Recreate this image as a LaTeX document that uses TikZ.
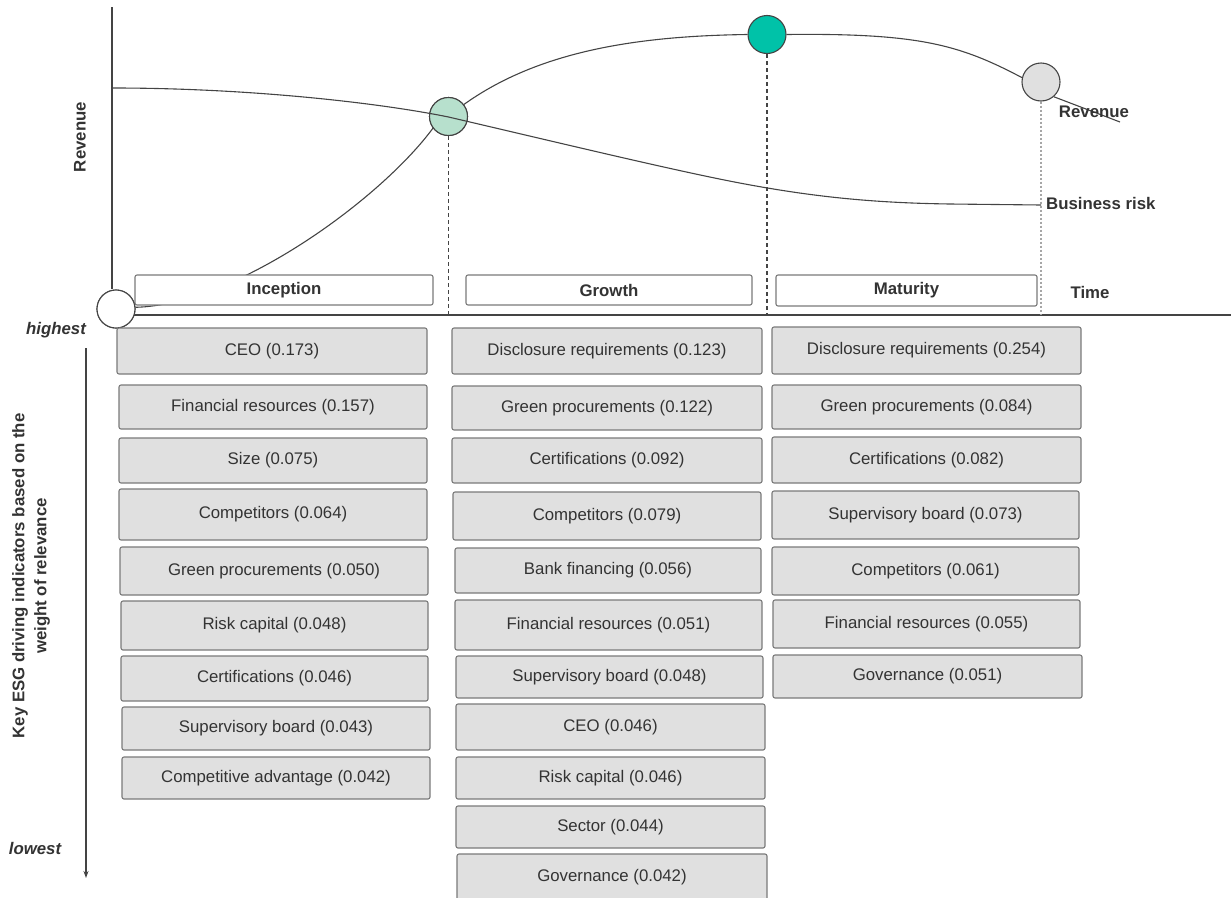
\documentclass[tikz,border=0pt]{standalone}
\usepackage{fontspec}
\setmainfont{Liberation Sans}
\usetikzlibrary{arrows.meta}
\definecolor{boxfill}{HTML}{E0E0E0}
\definecolor{boxline}{HTML}{7A7A7A}
\definecolor{txt}{HTML}{333333}
\definecolor{ln}{HTML}{444444}
\definecolor{mintc}{HTML}{B7E0CD}
\definecolor{tealc}{HTML}{00C2A8}
\definecolor{greyc}{HTML}{E0E0E0}
\newcommand\indbox[6]{\node[ind, minimum width={#4-#2}, minimum height={#5-#3}] (#1) at ({(#2+#4)/2},{(#3+#5)/2}) {#6};}
\newcommand\phbox[6]{\node[phase, minimum width={#4-#2}, minimum height={#5-#3}] (#1) at ({(#2+#4)/2},{(#3+#5)/2}) {#6};}
\begin{document}
\begin{tikzpicture}[x=1pt,y=-1pt,
  ind/.style={draw=boxline, fill=boxfill, rounded corners=2pt, line width=1.1pt, inner sep=0pt, text=txt, font=\fontsize{16.8}{20}\selectfont},
  phase/.style={draw=boxline, fill=white, rounded corners=2pt, line width=1.1pt, inner sep=0pt, text=txt, font=\fontsize{16.8}{20}\selectfont\bfseries},
  lbl/.style={text=txt, font=\fontsize{16.8}{20}\selectfont\bfseries, inner sep=0pt},
  curve/.style={draw=ln, line width=1.1pt},
  dot/.style={circle, draw=ln, line width=1.1pt, minimum size=38pt, inner sep=0pt},
  vdash/.style={draw=ln, line width=1.1pt, dash pattern=on 4pt off 3pt}
]
\useasboundingbox (0,0) rectangle (1231,897);
\clip (0,0) rectangle (1231,897);

% circles
\node[dot, fill=white] (c0) at (116,309) {};
\node[dot, fill=mintc] (c1) at (448.5,116.5) {};
\node[dot, fill=tealc] (c2) at (767,34.5) {};
\node[dot, fill=greyc] (c3) at (1041,82) {};

% axes
\coordinate (ytop) at (112,7);
\coordinate (xend) at (1231,315);
\coordinate (xstart) at (133,315);
\draw[curve] (ytop) -- (c0.north -| ytop);
\draw[curve] (xstart) -- (xend);

% dashed drop lines
\coordinate (d1) at (448.5,315);
\coordinate (d2) at (767,315);
\coordinate (d3) at (1041,315);
\draw[vdash] (c1.south) -- (d1);
\draw[vdash] (c2.south) -- (d2);
\draw[draw=gray!70, line width=1.1pt, dash pattern=on 2pt off 2pt] (c3.south) -- (d3);

% revenue curve
\coordinate (revend) at (1120,122);
\draw[curve] (c0.5) .. controls (235,305) and (380,200) .. (c1.217);
\draw[curve] (c1.38) .. controls (540,50) and (640,36) .. (c2.west);
\draw[curve] (c2.east) .. controls (920,33) and (960,45) .. (c3.167);
\draw[curve] (c3.-49) -- (revend);

% phase boxes
\phbox{pinc}{135}{275}{433}{305}{Inception}
\phbox{pgro}{466}{275}{752}{305}{Growth}
\phbox{pmat}{776}{275}{1037}{306}{Maturity}

% redraw circles on top
\node[dot, fill=white] at (116,309) {};
\node[dot, fill=mintc] at (448.5,116.5) {};

% business risk curve
\coordinate (brs) at (112.5,88);
\coordinate (bre) at (1041,205);
\draw[curve] (brs) .. controls (250,88) and (380,103) .. (448.5,117)
  .. controls (560,143) and (680,172) .. (745,184)
  .. controls (820,198) and (880,203) .. (950,204) -- (bre);

% labels top
\node[lbl, rotate=90] (lrev) at (80,137) {Revenue};
\node[lbl] (lrev2) at (1094,112) {Revenue};
\node[lbl, anchor=west] (lbr) at (1046,203) {Business risk};
\node[lbl] (ltime) at (1090,292) {Time};

% left side
\node[lbl, font=\fontsize{16.8}{20}\selectfont\bfseries\itshape] (lhi) at (56,330) {highest};
\node[lbl, font=\fontsize{16.8}{20}\selectfont\bfseries\itshape] (llo) at (35,848) {lowest};
\coordinate (atop) at (86,348);
\coordinate (abot) at (86,878);
\draw[draw=ln, line width=1.1pt, -{Stealth[length=7pt,width=5pt]}] (atop) -- (abot);
\node[lbl, rotate=90, align=center, font=\fontsize{16.8}{22}\selectfont\bfseries] (lkey) at (31,576) {Key ESG driving indicators based on the\\weight of relevance};

% Inception column
\indbox{i1}{117}{328}{427}{374}{CEO (0.173)}
\indbox{i2}{119}{385}{427}{429}{Financial resources (0.157)}
\indbox{i3}{119}{438}{427}{483}{Size (0.075)}
\indbox{i4}{119}{489}{427}{540}{Competitors (0.064)}
\indbox{i5}{120}{547}{428}{595}{Green procurements (0.050)}
\indbox{i6}{121}{601}{428}{650}{Risk capital (0.048)}
\indbox{i7}{121}{656}{428}{701}{Certifications (0.046)}
\indbox{i8}{122}{707}{430}{750}{Supervisory board (0.043)}
\indbox{i9}{122}{757}{430}{799}{Competitive advantage (0.042)}

% Growth column
\indbox{g1}{452}{328}{762}{374}{Disclosure requirements (0.123)}
\indbox{g2}{452}{386}{762}{430}{Green procurements (0.122)}
\indbox{g3}{452}{438}{762}{483}{Certifications (0.092)}
\indbox{g4}{453}{492}{761}{540}{Competitors (0.079)}
\indbox{g5}{455}{548}{761}{593}{Bank financing (0.056)}
\indbox{g6}{455}{600}{762}{650}{Financial resources (0.051)}
\indbox{g7}{456}{656}{763}{698}{Supervisory board (0.048)}
\indbox{g8}{456}{704}{765}{750}{CEO (0.046)}
\indbox{g9}{456}{757}{765}{799}{Risk capital (0.046)}
\indbox{g10}{456}{806}{765}{848}{Sector (0.044)}
\node[ind, minimum width=310, minimum height=46] (g11) at (612,877) {Governance (0.042)};

% Maturity column
\indbox{m1}{772}{327}{1081}{374}{Disclosure requirements (0.254)}
\indbox{m2}{772}{385}{1081}{429}{Green procurements (0.084)}
\indbox{m3}{772}{437}{1081}{483}{Certifications (0.082)}
\indbox{m4}{772}{491}{1079}{539}{Supervisory board (0.073)}
\indbox{m5}{772}{547}{1079}{595}{Competitors (0.061)}
\indbox{m6}{773}{600}{1080}{648}{Financial resources (0.055)}
\indbox{m7}{773}{655}{1082}{698}{Governance (0.051)}
\end{tikzpicture}
\end{document}
